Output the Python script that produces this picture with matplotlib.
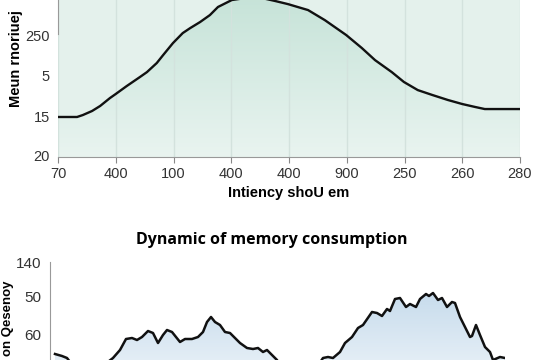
import numpy as np
import matplotlib
matplotlib.use("Agg")
import matplotlib.pyplot as plt
from matplotlib.colors import LinearSegmentedColormap

plt.rcParams['font.family'] = ['Liberation Sans', 'DejaVu Sans']

# top chart: smooth curve over a categorical-looking axis
top_x = [0.00, 0.33, 0.43, 0.59, 0.73, 0.90, 1.00, 1.19, 1.42, 1.54, 1.71, 1.82,
         1.99, 2.16, 2.29, 2.46, 2.63, 2.77, 3.01, 3.24, 3.46, 3.76, 3.98, 4.33,
         4.62, 4.99, 5.26, 5.49, 5.78, 5.99, 6.23, 6.48, 6.75, 7.00, 7.22, 7.39,
         8.00]
top_y = [24.7, 24.7, 25.9, 28.4, 31.5, 36.4, 38.9, 43.8, 49.4, 52.4, 58.0, 62.9,
         70.3, 76.5, 79.6, 83.3, 87.6, 92.6, 96.9, 98.1, 98.7, 96.3, 94.4, 90.7,
         84.5, 75.3, 67.3, 59.8, 52.4, 46.3, 41.3, 38.3, 35.2, 32.7, 30.9, 29.6,
         29.6]
top_xticklabels = ["70", "400", "100", "400", "400", "900", "250", "260", "280"]
top_ytick_vals = [1.2, 24.7, 50.6, 75.3]
top_yticklabels = ["20", "15", "5", "250"]

# bottom chart: memory consumption
mem_x = [5, 12, 17, 30, 45, 63, 70, 76, 82, 87, 92, 98, 103, 108, 113, 117, 122,
         130, 135, 142, 148, 153, 157, 161, 165, 170, 175, 180, 185, 190, 197,
         203, 208, 213, 217, 222, 227, 235, 250, 265, 273, 278, 283, 290, 295,
         302, 308, 313, 322, 327, 332, 337, 340, 345, 350, 356, 360, 366, 370,
         376, 379, 383, 388, 392, 397, 402, 405, 410, 415, 420, 422, 426, 430,
         435, 440, 443, 450, 455]
mem_y = [46, 44, 42, 25, 28, 42, 50, 61, 62, 60, 63, 69, 67, 57, 65, 70, 68,
         58, 61, 61, 63, 68, 78, 83, 78, 75, 68, 67, 62, 57, 52,
         51, 52, 48, 50, 45, 40, 25, 22, 30, 42, 43, 42, 48, 57,
         63, 72, 75, 88, 87, 84, 91, 89, 101, 102, 93, 96, 93, 101,
         106, 104, 107, 100, 102, 93, 98, 97, 83, 73, 63, 64, 75, 65,
         53, 48, 40, 43, 42]
mem_ytick_vals = [138, 103, 66]
mem_yticklabels = ["140", "50", "60"]

fig = plt.figure(figsize=(5.5, 3.6), dpi=100)

# ---- top axes
ax1 = fig.add_axes([58/550, 1-157/360, 462/550, 162/360])
ax1.set_facecolor("#e4f1ec")
ax1.set_xlim(0, 8)
ax1.set_ylim(0, 100)

grad = np.linspace(0, 1, 256).reshape(-1, 1)
cm1 = LinearSegmentedColormap.from_list("g1", ["#e9f4f0", "#c6e3d8"])
im1 = ax1.imshow(grad, extent=[0, 8, 0, 100], origin="lower", aspect="auto",
                 cmap=cm1, zorder=1)
poly1 = ax1.fill_between(top_x, top_y, 0, color="none")
im1.set_clip_path(poly1.get_paths()[0], transform=ax1.transData)

for xv in range(len(top_xticklabels)):
    ax1.axvline(xv, color="#d3e2dd", lw=1, zorder=1.5)
ax1.plot(top_x, top_y, color="#111111", lw=1.7, zorder=3)

ax1.set_xticks(range(len(top_xticklabels)), top_xticklabels)
ax1.set_yticks(top_ytick_vals, top_yticklabels)
ax1.tick_params(axis="x", colors="#888888", labelcolor="#333333", length=4,
                labelsize=10.5, pad=3)
ax1.tick_params(axis="y", length=0, labelcolor="#333333", labelsize=10.5, pad=6)
for s in ["top", "right"]:
    ax1.spines[s].set_visible(False)
ax1.spines["bottom"].set_color("#999999")
ax1.spines["left"].set_color("#999999")
ax1.spines["left"].set_bounds(76, 100)
ax1.set_xlabel("Intiency shoU em", fontsize=10.5, fontweight="bold", labelpad=4)
fig.text(16/550, 1-59/360, "Meun rnoriuej", rotation=90, ha="center",
         va="center", fontsize=10.5, fontweight="bold")

# ---- bottom axes
ax2 = fig.add_axes([50/550, 1-400/360, 455/550, 138/360])
ax2.set_facecolor("white")
ax2.set_xlim(0, 455)
ax2.set_ylim(0, 138)

cm2 = LinearSegmentedColormap.from_list("b1", ["#f4f8fb", "#c6dbec"])
im2 = ax2.imshow(grad, extent=[0, 455, 0, 110], origin="lower", aspect="auto",
                 cmap=cm2, zorder=1)
poly2 = ax2.fill_between(mem_x, mem_y, 0, color="none")
im2.set_clip_path(poly2.get_paths()[0], transform=ax2.transData)
ax2.plot(mem_x, mem_y, color="#111111", lw=1.8, zorder=3)

ax2.set_xticks([])
ax2.set_yticks(mem_ytick_vals, mem_yticklabels)
ax2.tick_params(axis="y", length=0, labelcolor="#333333", labelsize=11, pad=6)
for s in ["top", "right", "bottom"]:
    ax2.spines[s].set_visible(False)
ax2.spines["left"].set_color("#999999")
fig.text(272/550, 1-240/360, "Dynamic of memory consumption", ha="center",
         va="center", fontsize=11.5, fontweight="bold",
         family=["Open Sans", "DejaVu Sans"])
fig.text(8/550, 1-280/360, "on Qesenoy", rotation=90, ha="center", va="top",
         fontsize=9.5, fontweight="bold")

fig.savefig("out.png", dpi=100)
